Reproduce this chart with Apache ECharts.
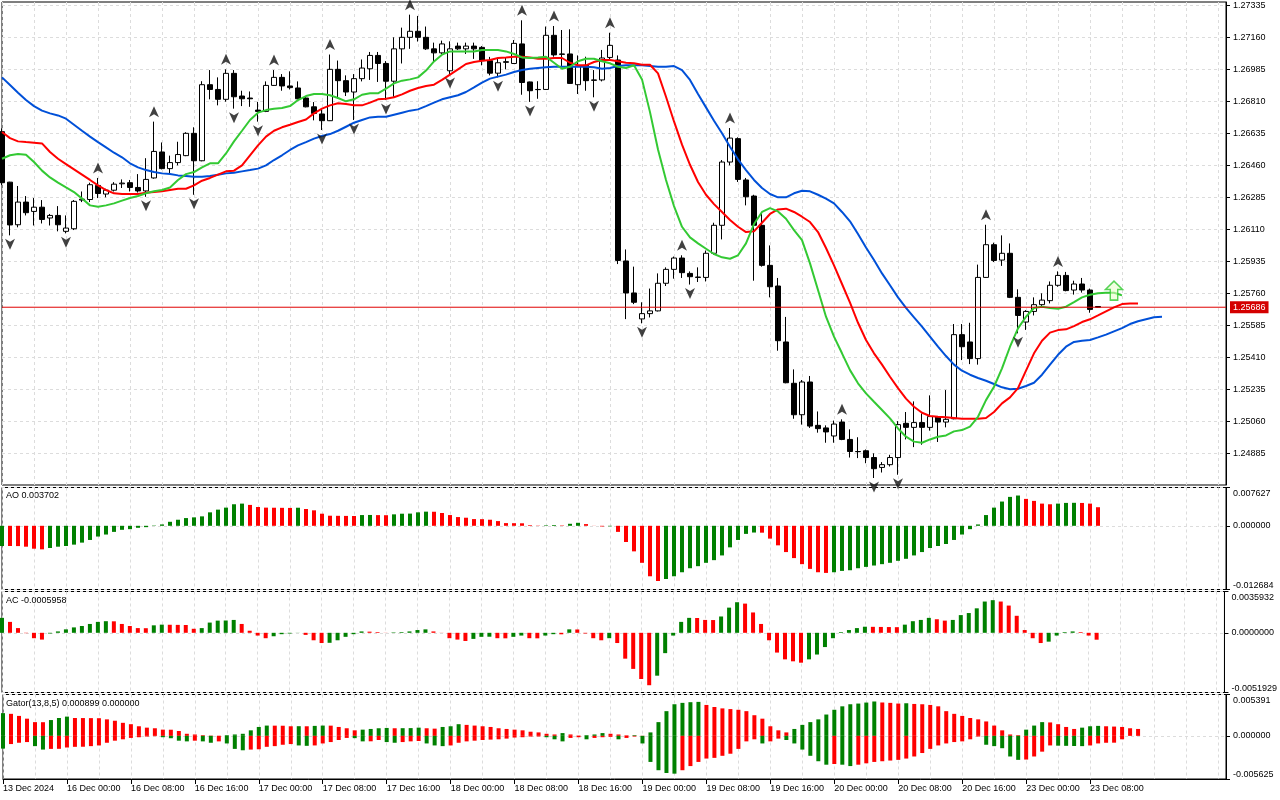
<!DOCTYPE html>
<html><head><meta charset="utf-8">
<script src="https://cdn.jsdelivr.net/npm/echarts@6/dist/echarts.min.js"></script>
<style>html,body{margin:0;padding:0;background:#fff}#c{width:1280px;height:800px}</style>
</head><body><div id="c"></div>
<script>
// ---- tick labels ----
const timeLabels = ['13 Dec 2024','16 Dec 00:00','16 Dec 08:00','16 Dec 16:00','17 Dec 00:00','17 Dec 08:00','17 Dec 16:00','18 Dec 00:00','18 Dec 08:00','18 Dec 16:00','19 Dec 00:00','19 Dec 08:00','19 Dec 16:00','20 Dec 00:00','20 Dec 08:00','20 Dec 16:00','23 Dec 00:00','23 Dec 08:00'];
const priceTicks = [1.24885,1.25060,1.25235,1.25410,1.25585,1.25760,1.25935,1.26110,1.26285,1.26460,1.26635,1.26810,1.26985,1.27160,1.27335];
const lastPrice = 1.25686;

// ---- candles (H1) ----
const open = [
1.26646,1.26370,1.26137,1.26261,1.26210,1.26233,1.26174,1.26188,1.26101,1.26115,
1.26272,1.26275,1.26352,1.26305,1.26326,1.26361,1.26367,1.26341,1.26322,1.26393,
1.26535,1.26444,1.26477,1.26515,1.26637,1.26487,1.26903,1.26877,1.26823,1.26965,
1.26841,1.26830,1.26764,1.26757,1.26899,1.26943,1.26896,1.26885,1.26830,1.26782,
1.26743,1.26706,1.26987,1.26925,1.26863,1.26936,1.26990,1.27063,1.27019,1.26922,
1.27099,1.27162,1.27195,1.27162,1.27099,1.27077,1.26979,1.27114,1.27099,1.27114,
1.27107,1.27034,1.26966,1.27025,1.27019,1.27126,1.26918,1.26877,1.26877,1.27173,
1.27071,1.27071,1.26903,1.27009,1.26929,1.26929,1.27052,1.27038,1.25939,1.25764,
1.25622,1.25651,1.25666,1.25817,1.25893,1.25955,1.25871,1.25851,1.25849,1.25981,
1.26134,1.26480,1.26608,1.26382,1.26294,1.26134,1.25915,1.25802,1.25496,1.25270,
1.25098,1.25277,1.25040,1.25026,1.24982,1.25058,1.24963,1.24897,1.24901,1.24864,
1.24810,1.24825,1.24864,1.25051,1.25029,1.25055,1.25029,1.25088,1.25058,1.25076,
1.25536,1.25496,1.25405,1.25849,1.26028,1.25944,1.25981,1.25740,1.25605,1.25663,
1.25700,1.25722,1.25806,1.25860,1.25780,1.25813,1.25780,1.25690];
const close = [
1.26367,1.26136,1.26261,1.26203,1.26233,1.26166,1.26188,1.26137,1.26119,1.26265,
1.26277,1.26356,1.26308,1.26326,1.26359,1.26365,1.26341,1.26322,1.26385,1.26538,
1.26444,1.26477,1.26521,1.26637,1.26487,1.26903,1.26877,1.26823,1.26965,1.26837,
1.26826,1.26826,1.26757,1.26899,1.26943,1.26896,1.26887,1.26826,1.26782,1.26746,
1.26706,1.26987,1.26925,1.26863,1.26936,1.26994,1.27063,1.27019,1.26922,1.27099,
1.27162,1.27195,1.27162,1.27099,1.27077,1.27126,1.27099,1.27099,1.27114,1.27099,
1.27034,1.26966,1.27023,1.27029,1.27129,1.26915,1.26870,1.26876,1.27173,1.27066,
1.27069,1.26910,1.27005,1.26925,1.26927,1.27049,1.27118,1.25942,1.25764,1.25713,
1.25651,1.25666,1.25817,1.25893,1.25955,1.25875,1.25853,1.25849,1.25981,1.26134,
1.26480,1.26611,1.26385,1.26290,1.26134,1.25915,1.25798,1.25503,1.25273,1.25098,
1.25277,1.25036,1.25022,1.25004,1.25047,1.24963,1.24897,1.24896,1.24864,1.24803,
1.24825,1.24864,1.25044,1.25029,1.25055,1.25029,1.25088,1.25058,1.25073,1.25536,
1.25470,1.25405,1.25849,1.26028,1.25942,1.25981,1.25740,1.25641,1.25663,1.25700,
1.25725,1.25806,1.25860,1.25777,1.25813,1.25780,1.25674,1.25686];
const high = [
1.26664,1.26372,1.26349,1.26294,1.26283,1.26272,1.26196,1.26239,1.26188,1.26272,
1.26319,1.26367,1.26393,1.26334,1.26370,1.26385,1.26382,1.26414,1.26501,1.26701,
1.26587,1.26515,1.26591,1.26643,1.26670,1.26922,1.26983,1.26943,1.26987,1.26983,
1.26870,1.26866,1.26809,1.26921,1.26983,1.26961,1.26976,1.26921,1.26837,1.26808,
1.26775,1.27068,1.27035,1.26954,1.26961,1.27041,1.27082,1.27082,1.27032,1.27162,
1.27215,1.27286,1.27279,1.27221,1.27133,1.27144,1.27140,1.27133,1.27133,1.27133,
1.27114,1.27055,1.27045,1.27049,1.27147,1.27255,1.26920,1.26922,1.27221,1.27224,
1.27202,1.27206,1.27063,1.27056,1.26983,1.27093,1.27187,1.27063,1.26002,1.25908,
1.25713,1.25788,1.25871,1.25904,1.25963,1.25970,1.25882,1.25904,1.25996,1.26148,
1.26491,1.26666,1.26615,1.26393,1.26301,1.26199,1.26024,1.25846,1.25633,1.25346,
1.25288,1.25310,1.25116,1.25040,1.25066,1.25073,1.25018,1.24975,1.24908,1.24887,
1.24839,1.24879,1.25063,1.25113,1.25171,1.25105,1.25204,1.25091,1.25233,1.25594,
1.25594,1.25601,1.25919,1.26137,1.26039,1.26079,1.26035,1.25784,1.25670,1.25740,
1.25762,1.25827,1.25882,1.25879,1.25831,1.25846,1.25788,1.25692];
const low = [
1.26354,1.26079,1.26123,1.26188,1.26133,1.26144,1.26133,1.26101,1.26090,1.26108,
1.26261,1.26261,1.26283,1.26287,1.26319,1.26338,1.26319,1.26313,1.26290,1.26389,
1.26440,1.26414,1.26462,1.26512,1.26301,1.26484,1.26823,1.26790,1.26810,1.26772,
1.26786,1.26782,1.26701,1.26753,1.26896,1.26870,1.26877,1.26823,1.26779,1.26708,
1.26655,1.26704,1.26826,1.26841,1.26710,1.26921,1.26929,1.26918,1.26819,1.26837,
1.27019,1.27099,1.27139,1.27093,1.27032,1.27070,1.26961,1.27093,1.27071,1.27044,
1.27009,1.26954,1.26943,1.26987,1.27016,1.26848,1.26809,1.26826,1.26874,1.27056,
1.27001,1.26907,1.26852,1.26870,1.26834,1.26921,1.27041,1.25922,1.25621,1.25703,
1.25598,1.25630,1.25663,1.25802,1.25842,1.25846,1.25810,1.25824,1.25827,1.25973,
1.26057,1.26462,1.26371,1.26243,1.25831,1.25908,1.25740,1.25448,1.25270,1.25076,
1.25044,1.25026,1.25000,1.24945,1.24945,1.24959,1.24864,1.24861,1.24833,1.24752,
1.24782,1.24815,1.24770,1.24963,1.24921,1.24934,1.25011,1.24949,1.25029,1.25073,
1.25397,1.25375,1.25372,1.25846,1.25933,1.25912,1.25736,1.25543,1.25562,1.25641,
1.25693,1.25707,1.25798,1.25773,1.25755,1.25766,1.25656,1.25684];

// ---- Alligator (shifted lines) ----
const jaw = [
1.26943,1.26901,1.26859,1.26819,1.26786,1.26761,1.26746,1.26735,1.26717,1.26684,
1.26651,1.26619,1.26589,1.26560,1.26531,1.26506,1.26473,1.26451,1.26436,1.26425,
1.26418,1.26414,1.26407,1.26404,1.26400,1.26400,1.26404,1.26411,1.26418,1.26422,
1.26429,1.26436,1.26444,1.26462,1.26491,1.26517,1.26546,1.26571,1.26589,1.26608,
1.26622,1.26633,1.26651,1.26673,1.26695,1.26710,1.26724,1.26728,1.26728,1.26739,
1.26750,1.26761,1.26768,1.26786,1.26805,1.26823,1.26834,1.26845,1.26863,1.26888,
1.26914,1.26936,1.26947,1.26958,1.26972,1.26983,1.26990,1.26994,1.26998,1.27001,
1.27001,1.27001,1.27001,1.27001,1.26998,1.26990,1.26994,1.27005,1.27009,1.27009,
1.27009,1.27005,1.27001,1.27001,1.27005,1.26983,1.26929,1.26852,1.26779,1.26706,
1.26637,1.26564,1.26495,1.26436,1.26382,1.26338,1.26305,1.26287,1.26287,1.26309,
1.26323,1.26320,1.26301,1.26280,1.26254,1.26207,1.26156,1.26086,1.26013,1.25944,
1.25871,1.25806,1.25740,1.25682,1.25631,1.25580,1.25525,1.25470,1.25419,1.25372,
1.25339,1.25317,1.25299,1.25284,1.25266,1.25248,1.25237,1.25240,1.25255,1.25273,
1.25317,1.25372,1.25426,1.25470,1.25496,1.25503,1.25507,1.25521,1.25536,1.25554,
1.25572,1.25594,1.25609,1.25620,1.25631,1.25634];
const teeth = [
1.26644,1.26611,1.26593,1.26589,1.26586,1.26582,1.26535,1.26498,1.26469,1.26440,
1.26411,1.26382,1.26352,1.26327,1.26309,1.26305,1.26305,1.26305,1.26312,1.26316,
1.26320,1.26327,1.26334,1.26334,1.26352,1.26378,1.26393,1.26411,1.26429,1.26433,
1.26462,1.26517,1.26571,1.26619,1.26651,1.26670,1.26684,1.26699,1.26713,1.26746,
1.26772,1.26790,1.26801,1.26797,1.26790,1.26790,1.26805,1.26823,1.26826,1.26834,
1.26850,1.26870,1.26885,1.26896,1.26903,1.26929,1.26958,1.26987,1.27016,1.27027,
1.27034,1.27038,1.27049,1.27052,1.27056,1.27056,1.27052,1.27045,1.27045,1.27049,
1.27049,1.27023,1.27009,1.27009,1.27027,1.27038,1.27038,1.27031,1.27023,1.27020,
1.27012,1.27012,1.26965,1.26837,1.26702,1.26575,1.26465,1.26371,1.26301,1.26250,
1.26207,1.26163,1.26126,1.26097,1.26101,1.26148,1.26196,1.26221,1.26225,1.26207,
1.26181,1.26152,1.26097,1.26010,1.25915,1.25813,1.25711,1.25601,1.25507,1.25434,
1.25372,1.25306,1.25244,1.25186,1.25142,1.25109,1.25091,1.25087,1.25084,1.25080,
1.25076,1.25076,1.25076,1.25080,1.25113,1.25160,1.25193,1.25244,1.25339,1.25434,
1.25503,1.25547,1.25561,1.25565,1.25583,1.25605,1.25620,1.25641,1.25663,1.25685,
1.25703,1.25707,1.25707];
const lips = [
1.26498,1.26517,1.26524,1.26520,1.26480,1.26433,1.26396,1.26367,1.26341,1.26316,
1.26280,1.26243,1.26236,1.26243,1.26254,1.26269,1.26283,1.26294,1.26309,1.26320,
1.26327,1.26341,1.26382,1.26414,1.26425,1.26451,1.26473,1.26473,1.26527,1.26593,
1.26651,1.26710,1.26750,1.26764,1.26772,1.26775,1.26786,1.26819,1.26841,1.26852,
1.26852,1.26845,1.26830,1.26812,1.26823,1.26848,1.26856,1.26856,1.26881,1.26910,
1.26925,1.26932,1.26943,1.26980,1.27030,1.27067,1.27085,1.27085,1.27085,1.27085,
1.27093,1.27093,1.27093,1.27085,1.27071,1.27052,1.27049,1.27052,1.27056,1.27023,
1.26990,1.27001,1.27031,1.27045,1.27045,1.27031,1.27020,1.27001,1.26994,1.27009,
1.26932,1.26753,1.26549,1.26382,1.26239,1.26126,1.26068,1.26035,1.26006,1.25977,
1.25959,1.25951,1.25970,1.26035,1.26141,1.26207,1.26228,1.26210,1.26170,1.26108,
1.26053,1.25926,1.25780,1.25634,1.25525,1.25434,1.25342,1.25270,1.25215,1.25169,
1.25124,1.25078,1.25023,1.24978,1.24951,1.24945,1.24963,1.24978,1.24985,1.25007,
1.25014,1.25033,1.25087,1.25178,1.25251,1.25352,1.25470,1.25570,1.25634,1.25682,
1.25689,1.25682,1.25678,1.25689,1.25714,1.25740,1.25754,1.25762,1.25765,1.25765,
1.25751];

// ---- Fractals (bar indices) and signal ----
const fractalUp = [12,19,28,34,41,51,65,69,76,85,91,105,123,132];
const fractalDown = [1,8,18,24,29,32,40,44,48,56,62,66,74,80,86,109,112,127];
const signalIdx = 139, signalPrice = 1.25777;

// ---- Awesome Oscillator ----
const ao = [
-0.00402,-0.00402,-0.00404,-0.00416,-0.00456,-0.00469,-0.00442,-0.00416,-0.00402,-0.00375,
-0.00335,-0.00282,-0.00214,-0.00174,-0.00121,-0.00080,-0.00067,-0.00040,-0.00027,0.00007,
0.00027,0.00080,0.00121,0.00154,0.00168,0.00188,0.00268,0.00322,0.00362,0.00429,
0.00442,0.00416,0.00375,0.00362,0.00360,0.00358,0.00356,0.00360,0.00335,0.00308,
0.00241,0.00201,0.00199,0.00197,0.00195,0.00214,0.00216,0.00213,0.00211,0.00228,
0.00241,0.00243,0.00268,0.00282,0.00280,0.00255,0.00214,0.00174,0.00161,0.00134,
0.00132,0.00121,0.00094,0.00054,0.00052,0.00050,0.00013,0.00005,0.00010,0.00015,
0.00008,0.00040,0.00060,0.00034,-0.00002,-0.00013,-0.00010,-0.00121,-0.00322,-0.00509,
-0.00737,-0.01005,-0.01099,-0.01059,-0.01005,-0.00925,-0.00845,-0.00804,-0.00737,-0.00684,
-0.00590,-0.00429,-0.00282,-0.00161,-0.00134,-0.00137,-0.00255,-0.00389,-0.00523,-0.00643,
-0.00764,-0.00858,-0.00925,-0.00938,-0.00925,-0.00898,-0.00885,-0.00845,-0.00818,-0.00791,
-0.00764,-0.00737,-0.00697,-0.00657,-0.00590,-0.00523,-0.00442,-0.00402,-0.00362,-0.00282,
-0.00174,-0.00067,0.00027,0.00214,0.00362,0.00483,0.00576,0.00603,0.00536,0.00496,
0.00442,0.00429,0.00442,0.00456,0.00458,0.00455,0.00442,0.00370];

// ---- Accelerator Oscillator ----
const ac = [
0.00130,0.00095,0.00041,-0.00003,-0.00047,-0.00059,-0.00006,0.00012,0.00030,0.00047,
0.00059,0.00077,0.00095,0.00101,0.00100,0.00077,0.00059,0.00041,0.00040,0.00065,
0.00071,0.00070,0.00069,0.00068,0.00035,0.00041,0.00089,0.00106,0.00107,0.00112,
0.00077,0.00018,-0.00024,-0.00047,-0.00030,-0.00012,-0.00006,0.00001,-0.00018,-0.00065,
-0.00089,-0.00087,-0.00065,-0.00035,-0.00012,0.00012,0.00010,0.00006,0.00001,0.00004,
0.00006,0.00012,0.00024,0.00030,0.00012,-0.00001,-0.00047,-0.00059,-0.00071,-0.00053,
-0.00035,-0.00034,-0.00047,-0.00048,-0.00035,-0.00024,-0.00047,-0.00048,-0.00024,-0.00012,
-0.00013,0.00030,0.00029,-0.00006,-0.00047,-0.00065,-0.00047,-0.00089,-0.00225,-0.00314,
-0.00402,-0.00456,-0.00373,-0.00177,-0.00024,0.00095,0.00130,0.00129,0.00112,0.00111,
0.00142,0.00219,0.00266,0.00254,0.00177,0.00077,-0.00065,-0.00172,-0.00231,-0.00248,
-0.00260,-0.00231,-0.00189,-0.00124,-0.00047,0.00006,0.00024,0.00041,0.00053,0.00052,
0.00051,0.00050,0.00049,0.00071,0.00101,0.00112,0.00130,0.00118,0.00106,0.00112,
0.00154,0.00172,0.00213,0.00272,0.00284,0.00272,0.00237,0.00148,0.00024,-0.00047,
-0.00089,-0.00077,-0.00024,0.00006,0.00012,0.00006,-0.00024,-0.00060];

// ---- Gator Oscillator ----
const gatorUp = [
0.00296,0.00287,0.00260,0.00224,0.00179,0.00178,0.00206,0.00233,0.00251,0.00233,
0.00232,0.00231,0.00230,0.00215,0.00197,0.00170,0.00152,0.00125,0.00107,0.00099,
0.00081,0.00080,0.00063,0.00027,0.00018,0.00009,0.00004,0.00002,0.00009,0.00018,
0.00027,0.00072,0.00116,0.00134,0.00133,0.00132,0.00125,0.00126,0.00125,0.00130,
0.00134,0.00133,0.00116,0.00099,0.00072,0.00081,0.00090,0.00099,0.00103,0.00099,
0.00100,0.00101,0.00107,0.00099,0.00094,0.00116,0.00125,0.00152,0.00143,0.00134,
0.00125,0.00116,0.00099,0.00090,0.00081,0.00072,0.00054,0.00045,0.00027,0.00018,
0.00036,0.00018,0.00004,0.00009,0.00018,0.00036,0.00027,0.00018,0.00007,0.00009,
0.00002,0.00045,0.00179,0.00322,0.00412,0.00430,0.00439,0.00443,0.00403,0.00376,
0.00358,0.00349,0.00340,0.00322,0.00269,0.00224,0.00125,0.00072,0.00045,0.00090,
0.00143,0.00179,0.00215,0.00278,0.00340,0.00385,0.00412,0.00421,0.00434,0.00448,
0.00435,0.00430,0.00421,0.00425,0.00416,0.00412,0.00403,0.00385,0.00322,0.00287,
0.00260,0.00233,0.00215,0.00188,0.00134,0.00072,0.00018,0.00009,0.00081,0.00134,
0.00179,0.00175,0.00152,0.00116,0.00090,0.00107,0.00125,0.00130,0.00125,0.00121,
0.00116,0.00099,0.00090];
const gatorDown = [
-0.00166,-0.00107,-0.00090,-0.00081,-0.00134,-0.00179,-0.00170,-0.00169,-0.00152,-0.00143,
-0.00142,-0.00134,-0.00125,-0.00090,-0.00063,-0.00045,-0.00027,-0.00018,-0.00009,-0.00004,
-0.00018,-0.00031,-0.00063,-0.00072,-0.00063,-0.00072,-0.00090,-0.00072,-0.00099,-0.00170,
-0.00188,-0.00179,-0.00175,-0.00143,-0.00134,-0.00116,-0.00107,-0.00125,-0.00130,-0.00125,
-0.00099,-0.00081,-0.00054,-0.00027,-0.00030,-0.00072,-0.00071,-0.00054,-0.00081,-0.00090,
-0.00081,-0.00072,-0.00067,-0.00099,-0.00125,-0.00134,-0.00125,-0.00090,-0.00072,-0.00063,
-0.00054,-0.00049,-0.00045,-0.00036,-0.00022,-0.00018,-0.00009,-0.00008,-0.00018,-0.00045,
-0.00072,-0.00027,-0.00018,-0.00045,-0.00027,-0.00018,-0.00013,-0.00045,-0.00027,-0.00009,
-0.00099,-0.00340,-0.00448,-0.00484,-0.00493,-0.00448,-0.00394,-0.00340,-0.00296,-0.00287,
-0.00260,-0.00233,-0.00170,-0.00072,-0.00045,-0.00099,-0.00072,-0.00036,-0.00054,-0.00099,
-0.00179,-0.00260,-0.00331,-0.00376,-0.00367,-0.00376,-0.00394,-0.00376,-0.00358,-0.00340,
-0.00331,-0.00322,-0.00313,-0.00296,-0.00269,-0.00224,-0.00170,-0.00125,-0.00099,-0.00081,
-0.00072,-0.00045,-0.00009,-0.00116,-0.00134,-0.00161,-0.00269,-0.00313,-0.00309,-0.00269,
-0.00206,-0.00125,-0.00128,-0.00130,-0.00132,-0.00134,-0.00125,-0.00099,-0.00090,-0.00089,
-0.00045];

// panel scales (as printed on the axes)
const aoMax = 0.007627, aoMin = -0.012684;
const acMax = 0.0035932, acMin = -0.0051929;
const gMax = 0.005391, gMin = -0.005625;

// ---- build ----
const N = 154;
const cats = Array.from({length: N}, (_, i) => String(i));
const FONT = "'Liberation Sans', Arial, sans-serif";
const GREEN = '#008000', RED = '#ff0000';
const gridLine = {show: true, lineStyle: {color: '#dcdcdc', type: [3, 3], width: 1}};

function colored(vals, absMode) {
  return vals.map((v, i) => {
    let up;
    if (i === 0) up = true;
    else up = absMode ? Math.abs(v) > Math.abs(vals[i - 1]) : v > vals[i - 1];
    return {value: v, itemStyle: {color: up ? GREEN : RED}};
  });
}

function panelAxis(idx, min, max, dec) {
  return {
    gridIndex: idx, type: 'value', position: 'right', min: min, max: max,
    axisLine: {show: true, onZero: false, lineStyle: {color: '#000'}},
    axisTick: {show: true, length: 4, lineStyle: {color: '#000'}, customValues: [min, 0, max]},
    axisLabel: {
      customValues: [min, 0, max], margin: 7, color: '#000', fontFamily: FONT, fontSize: 9,
      formatter: v => {
        const s = Math.abs(v) < 1e-12 ? (0).toFixed(dec) : v.toFixed(dec);
        if (Math.abs(v - max) < 1e-10) return '{t|' + s + '}';
        if (Math.abs(v - min) < 1e-10) return '{b|' + s + '}';
        return s;
      },
      rich: {
        t: {padding: [12, 0, 0, 0], fontFamily: FONT, fontSize: 9, color: '#000'},
        b: {padding: [0, 0, 8, 0], fontFamily: FONT, fontSize: 9, color: '#000'}
      }
    },
    splitLine: gridLine
  };
}

function xAx(idx, withLabels) {
  const base = {
    gridIndex: idx, type: 'category', data: cats, boundaryGap: false,
    axisLine: {show: withLabels, onZero: false, lineStyle: {color: '#000'}},
    axisTick: {show: false},
    axisLabel: {show: false},
    splitLine: {show: true, interval: 3, lineStyle: {color: '#dcdcdc', type: [3, 3], width: 1}}
  };
  if (withLabels) {
    base.axisTick = {show: true, length: 5, lineStyle: {color: '#000'},
      interval: (i) => i % 8 === 0 && i / 8 < timeLabels.length};
    base.axisLabel = {show: true, align: 'left', margin: 5, color: '#000', fontFamily: FONT, fontSize: 9,
      interval: (i) => i % 8 === 0 && i / 8 < timeLabels.length,
      formatter: (v, i) => (i % 8 === 0 && timeLabels[i / 8]) ? timeLabels[i / 8] : ''};
  }
  return base;
}

const chart = echarts.init(document.getElementById('c'), null, {renderer: 'canvas'});
const gridBase = {left: 2, width: 1224, show: true, borderColor: '#000', borderWidth: 1, backgroundColor: 'transparent'};

chart.setOption({
  animation: false,
  backgroundColor: '#fff',
  grid: [
    Object.assign({top: 2, height: 483}, gridBase),
    Object.assign({top: 487.5, height: 102}, gridBase),
    Object.assign({top: 591.5, height: 101}, gridBase),
    Object.assign({top: 694.5, height: 84.5}, gridBase)
  ],
  xAxis: [xAx(0, false), xAx(1, false), xAx(2, false), xAx(3, true)],
  yAxis: [
    {
      gridIndex: 0, type: 'value', position: 'right', min: 1.247138, max: 1.273552,
      axisLine: {show: true, lineStyle: {color: '#000'}},
      axisTick: {show: true, length: 4, lineStyle: {color: '#000'}, customValues: priceTicks},
      axisLabel: {customValues: priceTicks, formatter: v => v.toFixed(5), margin: 7, color: '#000', fontFamily: FONT, fontSize: 9},
      splitLine: gridLine
    },
    panelAxis(1, aoMin, aoMax, 6),
    panelAxis(2, acMin, acMax, 7),
    panelAxis(3, gMin, gMax, 6)
  ],
  graphic: [
    {type: 'text', left: 6, top: 491, style: {text: 'AO 0.003702', font: '9px ' + FONT, fill: '#000'}},
    {type: 'text', left: 6, top: 596, style: {text: 'AC -0.0005958', font: '9px ' + FONT, fill: '#000'}},
    {type: 'text', left: 6, top: 699, style: {text: 'Gator(13,8,5) 0.000899 0.000000', font: '9px ' + FONT, fill: '#000'}}
  ],
  series: [
    {
      type: 'candlestick', xAxisIndex: 0, yAxisIndex: 0, barWidth: 5,
      data: open.map((o, i) => [o, close[i], low[i], high[i]]),
      itemStyle: {color: '#fff', color0: '#000', borderColor: '#000', borderColor0: '#000', borderColorDoji: '#000', borderWidth: 1},
      z: 2
    },
    {type: 'line', name: 'Jaw', xAxisIndex: 0, yAxisIndex: 0, data: jaw, showSymbol: false, symbol: 'none',
      lineStyle: {color: '#0050d8', width: 2}, z: 3, silent: true},
    {type: 'line', name: 'Teeth', xAxisIndex: 0, yAxisIndex: 0, data: teeth, showSymbol: false, symbol: 'none',
      lineStyle: {color: '#ff0000', width: 2}, z: 3, silent: true},
    {type: 'line', name: 'Lips', xAxisIndex: 0, yAxisIndex: 0, data: lips, showSymbol: false, symbol: 'none',
      lineStyle: {color: '#33c933', width: 2}, z: 3, silent: true},
    {type: 'line', name: 'Bid', xAxisIndex: 0, yAxisIndex: 0, data: cats.map(() => lastPrice),
      showSymbol: false, symbol: 'none', color: '#e00000', z: 3, silent: true,
      lineStyle: {color: '#e00000', width: 1},
      endLabel: {show: true, distance: 4, formatter: () => lastPrice.toFixed(5), color: '#fff',
        backgroundColor: '#d40000', padding: [2, 3, 1, 3], fontFamily: FONT, fontSize: 9}},
    {type: 'scatter', xAxisIndex: 0, yAxisIndex: 0, silent: true, z: 4,
      data: fractalUp.map(i => [i, high[i]]),
      symbol: 'path://M5,0 L10,11 L5,8 L0,11 Z', symbolSize: [10, 11], symbolOffset: [0, -10],
      itemStyle: {color: '#111'}},
    {type: 'scatter', xAxisIndex: 0, yAxisIndex: 0, silent: true, z: 4,
      data: fractalDown.map(i => [i, low[i]]),
      symbol: 'path://M0,0 L5,3 L10,0 L5,11 Z', symbolSize: [10, 11], symbolOffset: [0, 9],
      itemStyle: {color: '#111'}},
    {type: 'scatter', xAxisIndex: 0, yAxisIndex: 0, silent: true, z: 4,
      data: [[signalIdx, signalPrice]],
      symbol: 'path://M8,0 L16,8 L11.5,8 L11.5,18 L4.5,18 L4.5,8 L0,8 Z', symbolSize: [17, 19],
      itemStyle: {color: 'rgba(230,255,200,0.7)', borderColor: '#2ec82e', borderWidth: 1.5}},
    {type: 'bar', xAxisIndex: 1, yAxisIndex: 1, barWidth: 4, data: colored(ao, false), silent: true},
    {type: 'bar', xAxisIndex: 2, yAxisIndex: 2, barWidth: 4, data: colored(ac, false), silent: true},
    {type: 'bar', xAxisIndex: 3, yAxisIndex: 3, barWidth: 4, barGap: '-100%', data: colored(gatorUp, false), silent: true},
    {type: 'bar', xAxisIndex: 3, yAxisIndex: 3, barWidth: 4, barGap: '-100%', data: colored(gatorDown, true), silent: true}
  ]
});
</script>
</body></html>
